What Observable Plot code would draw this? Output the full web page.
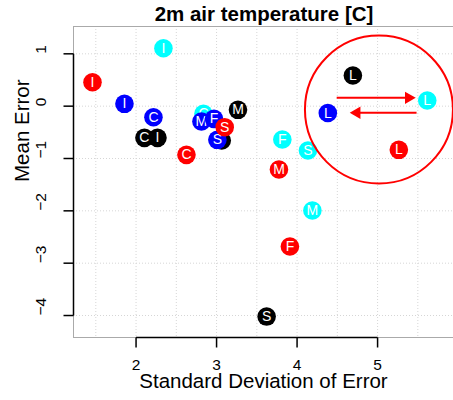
<!DOCTYPE html>
<html><head><meta charset="utf-8">
<script src="https://cdn.jsdelivr.net/npm/d3@7"></script>
<script src="https://cdn.jsdelivr.net/npm/@observablehq/plot@0.6"></script>
<style>
body{margin:0;background:#fff;font-family:"Liberation Sans",Arial,sans-serif;overflow:hidden;}
#title{height:24px;line-height:28px;margin-left:73px;width:382px;text-align:center;font-weight:bold;font-size:20.5px;white-space:nowrap;overflow:visible;}
#chart svg{display:block;}
</style></head><body>
<div id="title">2m air temperature [C]</div>
<div id="chart"></div>
<script>
// Data
const labels = ["I", "C", "M", "F", "S", "L"];
const seriesColors = ["#000000", "#00ffff", "#0000ff", "#ff0000"]; // draw order: black, cyan, blue, red
const sdBlack = [2.266, 2.104, 3.266, 3.064, 3.622, 4.693];
const meBlack = [-0.605, -0.605, -0.07, -0.656, -4.02, 0.585];
const sdCyan = [2.340, 2.837, 4.190, 3.817, 4.135, 5.617];
const meCyan = [1.107, -0.146, -1.994, -0.637, -0.847, 0.108];
const sdBlue = [1.856, 2.216, 2.812, 2.968, 3.010, 4.382];
const meBlue = [0.045, -0.211, -0.293, -0.242, -0.643, -0.131];
const sdRed = [1.459, 2.626, 3.775, 3.911, 3.101, 5.264];
const meRed = [0.457, -0.930, -1.211, -2.682, -0.402, -0.834];
const xTicks = [2, 3, 4, 5];
const yTicks = [-4, -3, -2, -1, 0, 1];
const xGrid = [1.5, 2, 2.5, 3, 3.5, 4, 4.5, 5, 5.5];
const yGrid = [-4, -3, -2, -1, 0, 1];
// annotation: red circle and two arrows
const circleCenter = [{x: 5.017, y: -0.064}];
const arrows = [
  {x1: 4.492, x2: 5.472, y: 0.159, dir: 1},
  {x1: 5.484, x2: 4.656, y: -0.127, dir: -1}
];
const xDomain = [1.223, 5.943];
const yDomain = [-4.420, 1.522];

const W = 453, H = 376, MT = 2, MB = 63, ML = 73, MR = 0;
const frameW = W - ML - MR, frameH = H - MT - MB;
const TICK = 10; // tick length in px
const tickDY = TICK * (yDomain[1] - yDomain[0]) / frameH;
const tickDX = TICK * (xDomain[1] - xDomain[0]) / frameW;

const sdSeries = [sdBlack, sdCyan, sdBlue, sdRed];
const meSeries = [meBlack, meCyan, meBlue, meRed];
const points = [];
sdSeries.forEach((sds, s) => sds.forEach((sd, i) => points.push({sd, me: meSeries[s][i], label: labels[i], color: seriesColors[s]})));

const pointMarks = [];
points.forEach(p => {
  pointMarks.push(Plot.dot([p], {x: "sd", y: "me", r: 9.3, fill: p.color, stroke: "none"}));
  pointMarks.push(Plot.text([p], {x: "sd", y: "me", text: "label", fill: "#fff", fontSize: 14}));
});

const fmt = d => d < 0 ? "\u2212" + Math.abs(d) : String(d);

const xAxisLine = [{y: yDomain[0], x1: xTicks[0], x2: xTicks[xTicks.length - 1]}];
const yAxisLine = [{x: xDomain[0], y1: yTicks[0], y2: yTicks[yTicks.length - 1]}];
const xTickSegs = xTicks.map(t => ({x: t, y1: yDomain[0], y2: yDomain[0] - tickDY}));
const yTickSegs = yTicks.map(t => ({y: t, x1: xDomain[0], x2: xDomain[0] - tickDX}));

const chart = Plot.plot({
  width: W,
  height: H,
  marginTop: MT,
  marginBottom: MB,
  marginLeft: ML,
  marginRight: MR,
  style: {fontFamily: "'Liberation Sans', Arial, sans-serif", background: "#fff", fontSize: "15px", overflow: "visible"},
  x: {domain: xDomain, axis: null},
  y: {domain: yDomain, axis: null},
  marks: [
    Plot.ruleX(xGrid, {stroke: "#d6d6d6", strokeDasharray: "1,2"}),
    Plot.ruleY(yGrid, {stroke: "#d6d6d6", strokeDasharray: "1,2"}),
    Plot.ruleX([xDomain[0]], {stroke: "#aaa"}),
    Plot.ruleY([yDomain[0]], {stroke: "#aaa"}),
    Plot.ruleY([yDomain[1]], {stroke: "#aaa"}),
    Plot.link(xAxisLine, {x1: "x1", x2: "x2", y1: "y", y2: "y", stroke: "#000", strokeWidth: 1.5}),
    Plot.link(yAxisLine, {x1: "x", x2: "x", y1: "y1", y2: "y2", stroke: "#000", strokeWidth: 1.5}),
    Plot.link(xTickSegs, {x1: "x", x2: "x", y1: "y1", y2: "y2", stroke: "#000", strokeWidth: 1.5}),
    Plot.link(yTickSegs, {x1: "x1", x2: "x2", y1: "y", y2: "y", stroke: "#000", strokeWidth: 1.5}),
    Plot.text(xTicks, {x: d => d, text: fmt, frameAnchor: "bottom", dy: 32, fontSize: 15.5, fill: "#000"}),
    Plot.text(yTicks, {y: d => d, text: fmt, frameAnchor: "left", dx: -32, rotate: -90, fontSize: 15.5, fill: "#000"}),
    Plot.text(["Standard Deviation of Error"], {text: d => d, frameAnchor: "bottom", dy: 50, fontSize: 20.5, fill: "#000"}),
    Plot.text(["Mean Error"], {text: d => d, frameAnchor: "left", dx: -51, rotate: -90, fontSize: 20.5, fill: "#000"}),
    ...pointMarks,
    Plot.dot(circleCenter, {x: "x", y: "y", r: 74, fill: "none", stroke: "#ff0000", strokeWidth: 2}),
    Plot.link(arrows, {x1: "x1", x2: d => d.x2 - d.dir * 0.08, y1: "y", y2: "y", stroke: "#ff0000", strokeWidth: 2}),
    Plot.dot(arrows.filter(a => a.dir > 0), {x: "x2", y: "y", symbol: "triangle", r: 4.6, fill: "#ff0000", stroke: "none", rotate: 90, dx: -7}),
    Plot.dot(arrows.filter(a => a.dir < 0), {x: "x2", y: "y", symbol: "triangle", r: 4.6, fill: "#ff0000", stroke: "none", rotate: -90, dx: 7})
  ]
});
document.getElementById("chart").appendChild(chart);
</script>
</body></html>
